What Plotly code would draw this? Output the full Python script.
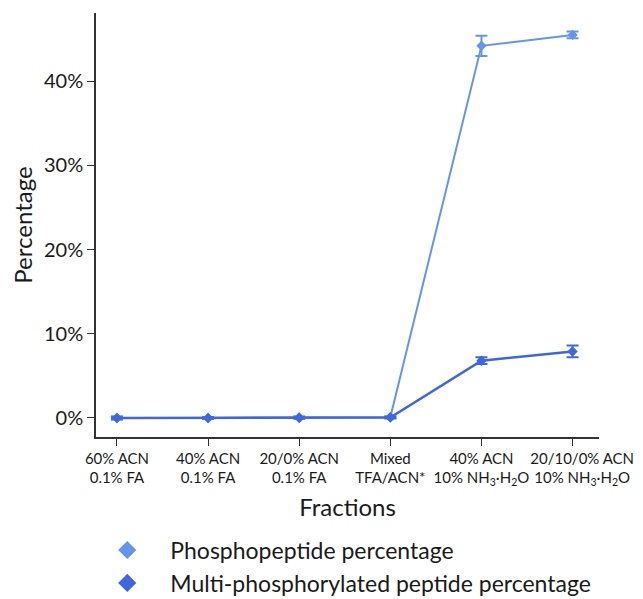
import plotly.graph_objects as go

NB = "\u00a0"
categories = ["60% ACN<br>0.1% FA", "40% ACN<br>0.1% FA", "20/0% ACN<br>0.1% FA",
              "Mixed<br>TFA/ACN*", "40% ACN<br>10% NH<sub>3</sub>·H<sub>2</sub>O",
              NB * 5 + "20/10/0% ACN<br>" + NB * 5 + "10% NH<sub>3</sub>·H<sub>2</sub>O"]
phospho = [0.0, 0.0, 0.1, 0.1, 44.2, 45.5]
phospho_err = [0.2, 0.1, 0.1, 0.1, 1.2, 0.4]
multi = [0.0, 0.0, 0.0, 0.05, 6.8, 7.9]
multi_err = [0.1, 0.1, 0.1, 0.1, 0.4, 0.7]
series_names = ["Phosphopeptide percentage", "Multi-phosphorylated peptide percentage"]
ytick_vals = [0, 10, 20, 30, 40]
ytick_text = ["0%", "10%", "20%", "30%", "40%"]

c_light = "#6495ED"
c_dark = "#3F66E0"
FONT = "Lato"
W, H = 643, 599

fig = go.Figure()
xs = list(range(len(categories)))
fig.add_trace(go.Scatter(x=xs, y=phospho, mode="lines+markers", showlegend=False,
                         line=dict(color=c_light, width=2),
                         marker=dict(symbol="diamond", size=8, color=c_light),
                         error_y=dict(type="data", array=phospho_err, color=c_light,
                                      thickness=2, width=6)))
fig.add_trace(go.Scatter(x=xs, y=multi, mode="lines+markers", showlegend=False,
                         line=dict(color=c_dark, width=2.5),
                         marker=dict(symbol="diamond", size=8, color=c_dark),
                         error_y=dict(type="data", array=multi_err, color=c_dark,
                                      thickness=2, width=6)))
for i, (name, col) in enumerate(zip(series_names, [c_light, c_dark])):
    fig.add_trace(go.Scatter(x=[None], y=[None], mode="markers", name=name,
                             legendgroup=f"g{i}",
                             marker=dict(symbol="diamond", size=14, color=col)))

fig.update_layout(
    width=W, height=H,
    margin=dict(l=0, r=0, t=0, b=0),
    plot_bgcolor="white", paper_bgcolor="white",
    font=dict(family=FONT, color="#1a1a1a"),
    xaxis=dict(domain=[88 / W, 591 / W],
               tickmode="array", tickvals=xs, ticktext=categories, automargin=False,
               tickangle=0,
               range=[-0.23, 5.29], showline=True, linecolor="#333", linewidth=1.5,
               ticks="outside", ticklen=7, tickcolor="#333", showgrid=False, zeroline=False,
               tickfont=dict(size=15, family=FONT),
               title=dict(text="Fractions", font=dict(size=24, family=FONT), standoff=12)),
    yaxis=dict(domain=[(H - 437 + 8) / H, (H - 13 + 8) / H],
               tickmode="array", tickvals=ytick_vals, ticktext=ytick_text, automargin=False,
               range=[-2.26, 48.1],
               showline=True, linecolor="#333", linewidth=1.5,
               ticks="outside", ticklen=7, tickcolor="#333", showgrid=False, zeroline=False,
               tickfont=dict(size=20, family=FONT),
               title=dict(text="Percentage", font=dict(size=24, family=FONT), standoff=8)),
    legend=dict(x=0.1186, y=0.131,
                xanchor="left", yanchor="top", orientation="v",
                font=dict(size=23, family=FONT), itemwidth=76, tracegroupgap=0,
                bgcolor="rgba(0,0,0,0)"),
)
fig.write_html("out.html")
